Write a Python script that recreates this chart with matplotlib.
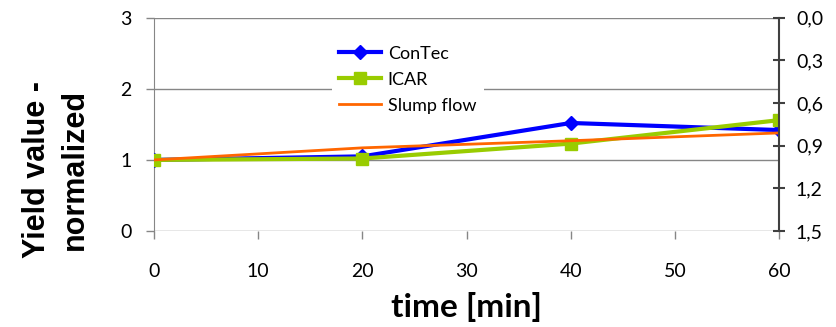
import matplotlib.pyplot as plt

# data
time_min = [0, 20, 40, 60]
contec = [1.0, 1.05, 1.52, 1.42]
icar = [1.0, 1.02, 1.23, 1.56]
slump_flow = [1.0, 1.17, 1.27, 1.38]

x_ticks = [0, 10, 20, 30, 40, 50, 60]
y_ticks = [0, 1, 2, 3]
right_ticks = [0.0, 0.3, 0.6, 0.9, 1.2, 1.5]

TICK_FONT = 'Lato'
GRID_COLOR = '#868686'

fig = plt.figure(figsize=(8.37, 3.27), dpi=100)
ax = fig.add_axes([0.184, 0.2936, 0.747, 0.652])

for y in y_ticks:
    ax.axhline(y, color=GRID_COLOR, lw=1, zorder=0)

ax.plot(time_min, contec, color='#0000FF', lw=3, marker='D', ms=7, label='ConTec', zorder=3)
ax.plot(time_min, icar, color='#99CC00', lw=3, marker='s', ms=8, label='ICAR', zorder=3)
ax.plot(time_min, slump_flow, color='#FF6600', lw=2, label='Slump flow', zorder=4)

ax.set_xlim(0, 60)
ax.set_ylim(0, 3)
ax.set_xticks(x_ticks)
ax.set_yticks(y_ticks)
ax.tick_params(axis='both', labelsize=14, length=6, color=GRID_COLOR, width=1)
ax.tick_params(axis='x', pad=17)
ax.tick_params(axis='y', pad=10)
for lbl in ax.get_xticklabels() + ax.get_yticklabels():
    lbl.set_fontfamily(TICK_FONT)

for side in ['top', 'right', 'bottom']:
    ax.spines[side].set_visible(False)
ax.spines['left'].set_color(GRID_COLOR)

ax.set_xlabel('time [min]', fontsize=24, fontweight='bold', family='Lato', labelpad=9)
ax.set_ylabel('Yield value -\nnormalized', fontsize=22, fontweight='bold',
              family='Liberation Sans', linespacing=1.35)
ax.yaxis.set_label_coords(-0.102, 0.29)

ax2 = ax.twinx()
ax2.set_ylim(1.5, 0.0)
ax2.set_yticks(right_ticks)
ax2.set_yticklabels([f'{v:.1f}'.replace('.', ',') for v in right_ticks])
ax2.tick_params(axis='y', labelsize=14, length=8, direction='inout', color='#404040', width=1.5, pad=8)
for lbl in ax2.get_yticklabels():
    lbl.set_fontfamily(TICK_FONT)
for side in ['top', 'left', 'bottom']:
    ax2.spines[side].set_visible(False)
ax2.spines['right'].set_color('#404040')
ax2.spines['right'].set_linewidth(1.5)

leg = ax.legend(loc='upper left', bbox_to_anchor=(0.27, 0.945), frameon=True,
                prop={'family': TICK_FONT, 'size': 13}, handlelength=2.3,
                labelspacing=0.55, borderpad=0.4, handletextpad=0.4)
leg.get_frame().set_edgecolor('none')
leg.get_frame().set_facecolor('white')
leg.get_frame().set_alpha(1)
leg.set_zorder(5)

fig.savefig('out.png', dpi=100)
